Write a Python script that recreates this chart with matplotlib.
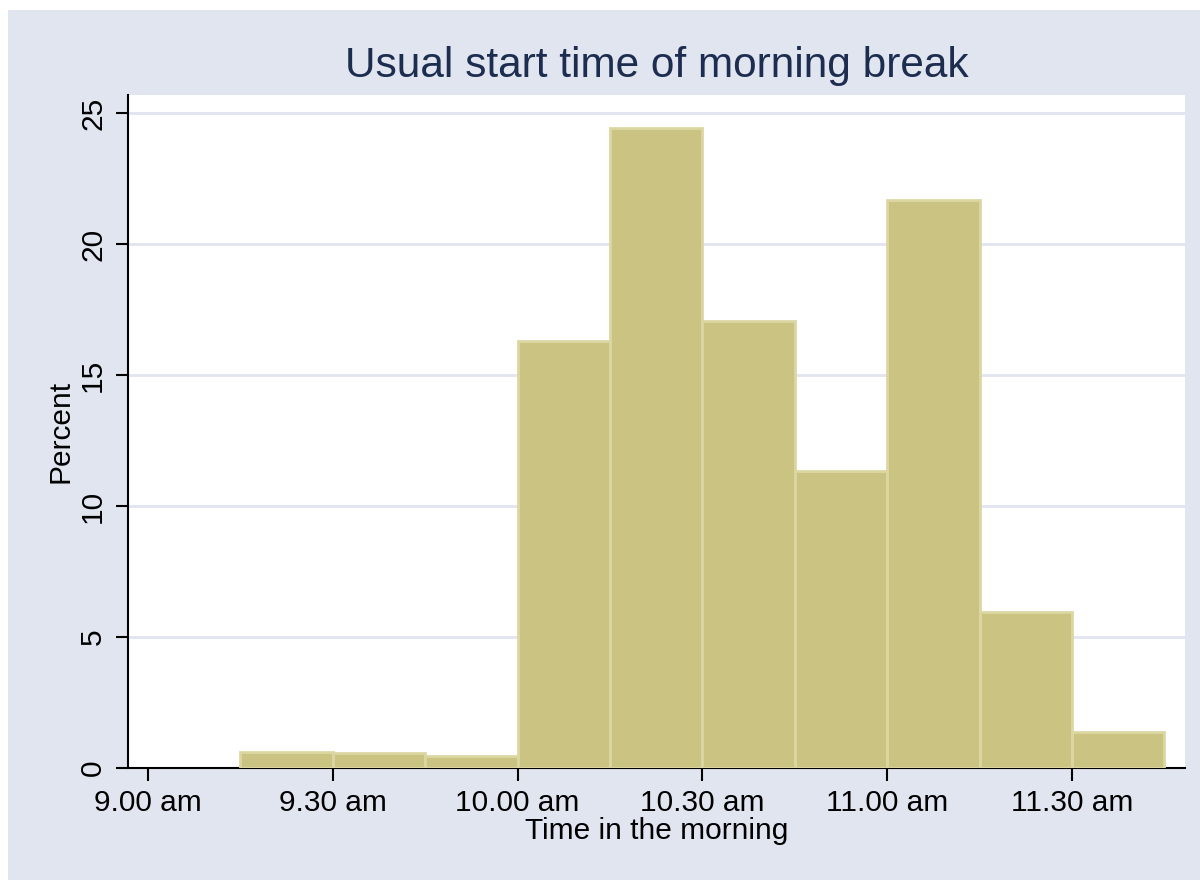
import matplotlib
matplotlib.use("Agg")
import matplotlib.pyplot as plt
from matplotlib.patches import Rectangle

plt.rcParams['font.family'] = ['Liberation Sans', 'DejaVu Sans']

# Data (bin start in hours, bin width 15 minutes)
bin_starts = [9.25, 9.5, 9.75, 10.0, 10.25, 10.5, 10.75, 11.0, 11.25, 11.5]
percents = [0.62, 0.58, 0.46, 16.3, 24.42, 17.06, 11.34, 21.7, 5.97, 1.37]
bin_width = 0.25
xtick_vals = [9.0, 9.5, 10.0, 10.5, 11.0, 11.5]
xtick_labels = ["9.00 am", "9.30 am", "10.00 am", "10.30 am", "11.00 am", "11.30 am"]
ytick_vals = [0, 5, 10, 15, 20, 25]

BG = "#e1e5f0"
fig = plt.figure(figsize=(12, 8.8), dpi=100, facecolor="white")
fig.patches.append(Rectangle((8/1200, 0), 1 - 8/1200, 1 - 10/880, transform=fig.transFigure,
                             facecolor=BG, edgecolor="none", zorder=-10))

ax = fig.add_axes([128/1200, 1 - 768/880, (1185 - 128)/1200, (768 - 95)/880])
ax.set_facecolor("white")

ax.bar(bin_starts, percents, width=bin_width, align="edge", color="#cbc382",
       edgecolor="#dcd7a2", linewidth=2, zorder=3)

ax.set_xlim(8.946, 11.806)
ax.set_ylim(0, 25.69)

ax.set_yticks(ytick_vals)
ax.set_yticklabels([str(v) for v in ytick_vals], rotation=90, va="center", fontsize=21.5)
ax.set_xticks(xtick_vals)
ax.set_xticklabels(xtick_labels, fontsize=21.5)

for y in ytick_vals[1:]:
    ax.axhline(y, color=BG, linewidth=2, zorder=1)

for s in ["top", "right"]:
    ax.spines[s].set_visible(False)
for s in ["left", "bottom"]:
    ax.spines[s].set_color("black")
    ax.spines[s].set_linewidth(1.5)

ax.tick_params(axis="both", direction="out", length=9, width=1.5, colors="black", pad=6)

ax.set_ylabel("Percent", fontsize=21.5, labelpad=3)
ax.set_xlabel("Time in the morning", fontsize=21.5, labelpad=0)
ax.set_title("Usual start time of morning break", fontsize=30.5, color="#1c2d50", pad=13)

fig.savefig("out.png", dpi=100, facecolor=fig.get_facecolor())
